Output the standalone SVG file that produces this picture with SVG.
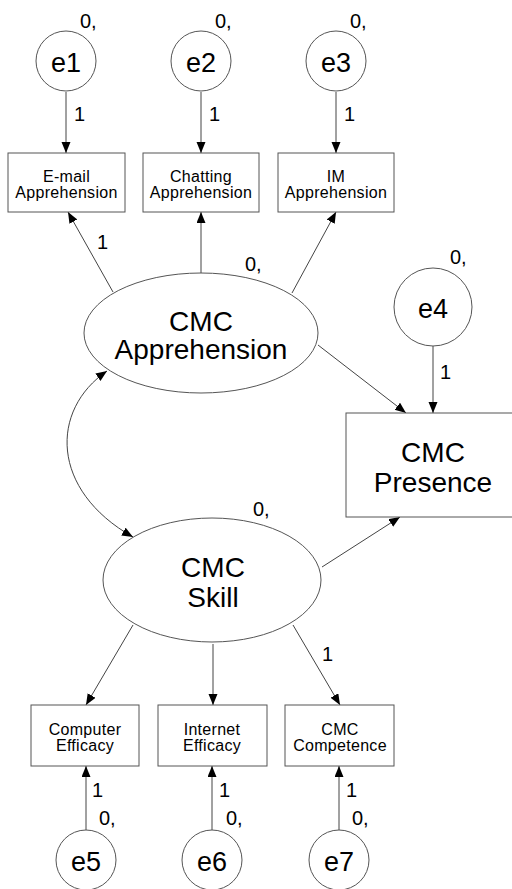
<svg xmlns="http://www.w3.org/2000/svg" width="512" height="889" viewBox="0 0 512 889">
<style>
  text { font-family: "Liberation Sans", Arial, sans-serif; fill: #000; }
  .shape { fill: #fff; stroke: #555; stroke-width: 1; }
  .big { font-size: 28px; text-anchor: middle; }
  .err { font-size: 27px; text-anchor: middle; }
  .small { font-size: 16px; text-anchor: middle; letter-spacing: 0.3px; }
  .lbl { font-size: 20px; }
  .conn path, .conn line { stroke: #444; stroke-width: 1; fill: none; }
</style>
<defs>
  <marker id="arr" markerUnits="userSpaceOnUse" markerWidth="12" markerHeight="10" refX="11" refY="4.5" orient="auto-start-reverse">
    <path d="M0,0 L11,4.5 L0,9 z" fill="#000"/>
  </marker>
</defs>

<g class="conn" id="connectors">
  <line x1="66" y1="92" x2="66" y2="153" marker-end="url(#arr)"/>
  <line x1="201" y1="92" x2="201" y2="153" marker-end="url(#arr)"/>
  <line x1="336" y1="92" x2="336" y2="153" marker-end="url(#arr)"/>
  <line x1="113" y1="292" x2="68" y2="212" marker-end="url(#arr)"/>
  <line x1="201" y1="273" x2="201" y2="212" marker-end="url(#arr)"/>
  <line x1="292" y1="293" x2="336" y2="212" marker-end="url(#arr)"/>
  <line x1="433" y1="346" x2="433" y2="413" marker-end="url(#arr)"/>
  <line x1="318" y1="345" x2="406" y2="413" marker-end="url(#arr)"/>
  <line x1="322" y1="567" x2="400" y2="517" marker-end="url(#arr)"/>
  <path d="M107,371 C50,410 50,490 133,537" marker-start="url(#arr)" marker-end="url(#arr)"/>
  <line x1="133" y1="625" x2="86" y2="705" marker-end="url(#arr)"/>
  <line x1="213" y1="644" x2="213" y2="705" marker-end="url(#arr)"/>
  <line x1="293" y1="625" x2="340" y2="705" marker-end="url(#arr)"/>
  <line x1="86" y1="830" x2="86" y2="766" marker-end="url(#arr)"/>
  <line x1="212" y1="830" x2="212" y2="766" marker-end="url(#arr)"/>
  <line x1="339" y1="830" x2="339" y2="766" marker-end="url(#arr)"/>
  <text class="lbl" x="74" y="121">1</text>
  <text class="lbl" x="209" y="121">1</text>
  <text class="lbl" x="344" y="121">1</text>
  <text class="lbl" x="97" y="249">1</text>
  <text class="lbl" x="440" y="379">1</text>
  <text class="lbl" x="322" y="661">1</text>
  <text class="lbl" x="92" y="797">1</text>
  <text class="lbl" x="219" y="797">1</text>
  <text class="lbl" x="346" y="797">1</text>
</g>

<g id="e1">
  <circle class="shape" cx="66" cy="61" r="30"/>
  <text class="err" x="66" y="72">e1</text>
  <text class="lbl" x="80" y="28">0,</text>
</g>
<g id="e2">
  <circle class="shape" cx="201" cy="61" r="30"/>
  <text class="err" x="201" y="72">e2</text>
  <text class="lbl" x="215" y="28">0,</text>
</g>
<g id="e3">
  <circle class="shape" cx="336" cy="61" r="30"/>
  <text class="err" x="336" y="72">e3</text>
  <text class="lbl" x="350" y="28">0,</text>
</g>

<g id="email">
  <rect class="shape" x="8" y="153" width="117" height="59"/>
  <text class="small" x="66.5" y="182">E-mail</text>
  <text class="small" x="66.5" y="198">Apprehension</text>
</g>
<g id="chatting">
  <rect class="shape" x="143" y="153" width="116" height="59"/>
  <text class="small" x="201" y="182">Chatting</text>
  <text class="small" x="201" y="198">Apprehension</text>
</g>
<g id="im">
  <rect class="shape" x="278" y="153" width="116" height="59"/>
  <text class="small" x="336" y="182">IM</text>
  <text class="small" x="336" y="198">Apprehension</text>
</g>

<g id="cmc-apprehension">
  <ellipse class="shape" cx="201" cy="333" rx="117" ry="60"/>
  <text class="big" x="201" y="331">CMC</text>
  <text class="big" x="201" y="359">Apprehension</text>
  <text class="lbl" x="245" y="271">0,</text>
</g>

<g id="e4">
  <circle class="shape" cx="433" cy="307" r="39"/>
  <text class="err" x="433" y="318">e4</text>
  <text class="lbl" x="450" y="264">0,</text>
</g>

<g id="cmc-presence">
  <rect class="shape" x="346" y="413" width="174" height="104"/>
  <text class="big" x="433" y="462">CMC</text>
  <text class="big" x="433" y="492">Presence</text>
</g>

<g id="cmc-skill">
  <ellipse class="shape" cx="212" cy="580" rx="109" ry="62"/>
  <text class="big" x="213" y="577">CMC</text>
  <text class="big" x="213" y="607">Skill</text>
  <text class="lbl" x="253" y="516">0,</text>
</g>

<g id="computer-efficacy">
  <rect class="shape" x="31" y="705" width="108" height="61"/>
  <text class="small" x="85" y="735">Computer</text>
  <text class="small" x="85" y="751">Efficacy</text>
</g>
<g id="internet-efficacy">
  <rect class="shape" x="158" y="705" width="109" height="61"/>
  <text class="small" x="212" y="735">Internet</text>
  <text class="small" x="212" y="751">Efficacy</text>
</g>
<g id="cmc-competence">
  <rect class="shape" x="285" y="705" width="109" height="61"/>
  <text class="small" x="340" y="735">CMC</text>
  <text class="small" x="340" y="751">Competence</text>
</g>

<g id="e5">
  <circle class="shape" cx="86" cy="860" r="30"/>
  <text class="err" x="86" y="871">e5</text>
  <text class="lbl" x="99" y="825">0,</text>
</g>
<g id="e6">
  <circle class="shape" cx="212" cy="860" r="30"/>
  <text class="err" x="212" y="871">e6</text>
  <text class="lbl" x="226" y="825">0,</text>
</g>
<g id="e7">
  <circle class="shape" cx="339" cy="860" r="30"/>
  <text class="err" x="339" y="871">e7</text>
  <text class="lbl" x="352" y="825">0,</text>
</g>
</svg>
